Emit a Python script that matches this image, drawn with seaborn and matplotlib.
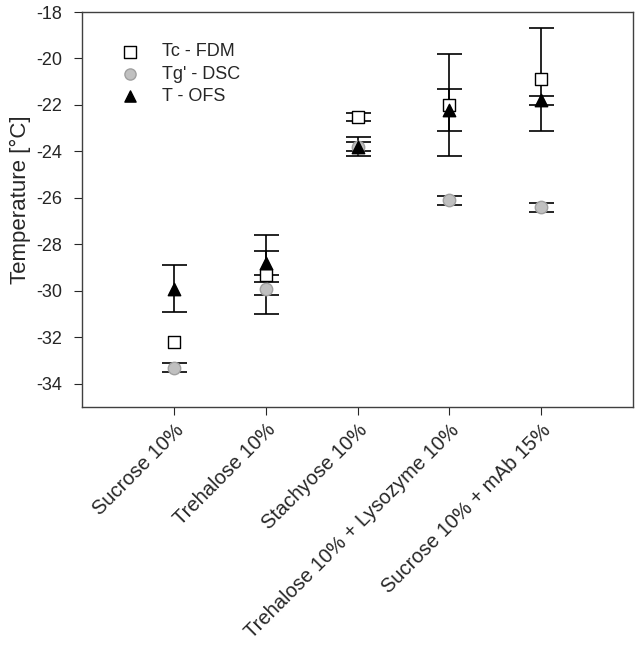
import pandas as pd
import numpy as np
import seaborn as sns
import matplotlib.pyplot as plt

# data
samples = ["Sucrose 10%", "Trehalose 10%", "Stachyose 10%",
           "Trehalose 10% + Lysozyme 10%", "Sucrose 10% + mAb 15%"]
tc_fdm = [-32.2, -29.3, -22.5, -22.0, -20.9]
tc_fdm_err = [np.nan, 1.7, 0.17, 2.2, 2.2]   # no error bar on sucrose
tg_dsc = [-33.3, -29.9, -23.8, -26.1, -26.4]
tg_dsc_err = [0.2, 0.3, 0.2, 0.2, 0.2]
t_ofs = [-29.9, -28.8, -23.8, -22.2, -21.8]
t_ofs_err = [1.0, 0.5, 0.4, 0.9, 0.2]
series = ["Tc - FDM", "Tg' - DSC", "T - OFS"]

df = pd.concat([
    pd.DataFrame({"sample": samples, "temp": tc_fdm, "err": tc_fdm_err, "method": series[0]}),
    pd.DataFrame({"sample": samples, "temp": tg_dsc, "err": tg_dsc_err, "method": series[1]}),
    pd.DataFrame({"sample": samples, "temp": t_ofs, "err": t_ofs_err, "method": series[2]}),
], ignore_index=True)

sns.set_style("ticks")
plt.rcParams['font.family'] = ['Liberation Sans', 'DejaVu Sans']
plt.rcParams['axes.unicode_minus'] = False

fig = plt.figure(figsize=(6.38, 6.61), dpi=100)
ax = fig.add_axes([82 / 638, 1 - 407 / 661, (633 - 82) / 638, (407 - 12) / 661])

pos = {s: i for i, s in enumerate(samples)}
df["x"] = df["sample"].map(pos)

# error bars first, markers on top
for m in series:
    d = df[(df["method"] == m) & df["err"].notna()]
    ax.errorbar(d["x"], d["temp"], yerr=d["err"], fmt="none", ecolor="black",
                elinewidth=1.2, capsize=9, capthick=1.2, zorder=1)

styles = {
    "Tc - FDM": dict(marker="s", facecolor="white", edgecolor="black"),
    "Tg' - DSC": dict(marker="o", facecolor="#c0c0c0", edgecolor="#a0a0a0"),
    "T - OFS": dict(marker="^", facecolor="black", edgecolor="black"),
}
for m in series:
    st = styles[m]
    sns.scatterplot(data=df[df["method"] == m], x="x", y="temp", marker=st["marker"],
                    color=st["facecolor"], edgecolor=st["edgecolor"], linewidth=1.0,
                    s=80, label=m, ax=ax, zorder=3)

ax.set_xlim(-1, 5)
ax.set_ylim(-35, -18)
ax.set_yticks(np.arange(-34, -17, 2))
ax.set_xticks(range(len(samples)))
ax.set_xticklabels(samples, rotation=45, ha="right", rotation_mode="anchor", fontsize=14.5)
ax.tick_params(axis="y", labelsize=13, direction="out", length=6, pad=8)
ax.tick_params(axis="x", direction="out", length=6)
ax.set_xlabel("")
ax.set_ylabel("Temperature [°C]", fontsize=16)
ax.yaxis.set_label_coords(-0.093, 0.525)
for sp in ax.spines.values():
    sp.set_visible(True)
    sp.set_color("#404040")
    sp.set_linewidth(1.0)

leg = ax.legend(loc="upper left", frameon=False, fontsize=13, markerscale=0.9,
                handletextpad=0.75, labelspacing=0.3, bbox_to_anchor=(0.025, 0.962))

fig.savefig("out.png", dpi=100)
